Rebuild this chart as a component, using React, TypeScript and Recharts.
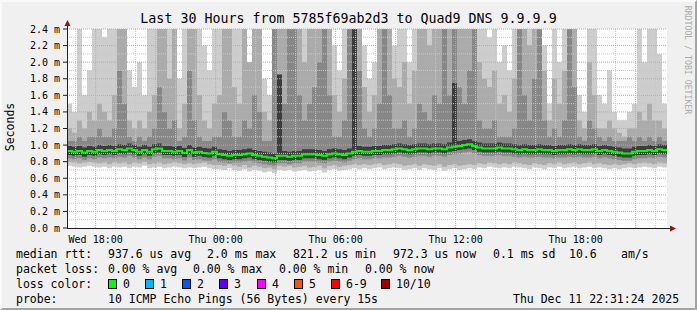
import { ComposedChart, Area, Line, XAxis, YAxis, ReferenceLine, CartesianGrid } from "recharts";

const MONO = "'DejaVu Sans Mono', monospace";

// hours since Wed 00:00; first column starts Wed 16:34, one column every 15 min
const START = 16.5667;
const STEP = 0.25;
const END = START + 30;

// median rtt per column (ms)
const med = [
  0.93, 0.92, 0.93, 0.91, 0.93, 0.92, 0.94, 0.93, 0.94, 0.93,
  0.95, 0.94, 0.96, 0.94, 0.92, 0.94, 0.92, 0.95, 0.96, 0.93,
  0.93, 0.92, 0.93, 0.905, 0.94, 0.91, 0.92, 0.905, 0.9, 0.92,
  0.89, 0.88, 0.87, 0.88, 0.88, 0.89, 0.9, 0.88, 0.87, 0.86,
  0.85, 0.84, 0.87, 0.87, 0.86, 0.87, 0.87, 0.89, 0.89, 0.89,
  0.88, 0.87, 0.89, 0.9, 0.89, 0.88, 0.9, 0.92, 0.93, 0.92,
  0.92, 0.93, 0.93, 0.94, 0.94, 0.95, 0.96, 0.95, 0.94, 0.95,
  0.96, 0.96, 0.95, 0.96, 0.96, 0.95, 0.97, 0.98, 0.99, 1.0,
  1.01, 0.99, 0.97, 0.96, 0.96, 0.96, 0.97, 0.96, 0.96, 0.95,
  0.94, 0.95, 0.94, 0.94, 0.95, 0.94, 0.94, 0.93, 0.94, 0.94,
  0.95, 0.94, 0.95, 0.94, 0.94, 0.95, 0.93, 0.94, 0.93, 0.92,
  0.91, 0.9, 0.9, 0.92, 0.93, 0.93, 0.94, 0.93, 0.95, 0.94,
];

// fastest ping (lower edge of the smoke)
const lo = [
  0.75, 0.74, 0.73, 0.74, 0.75, 0.74, 0.73, 0.74, 0.72, 0.74,
  0.73, 0.74, 0.72, 0.74, 0.73, 0.75, 0.72, 0.73, 0.74, 0.72,
  0.73, 0.74, 0.73, 0.72, 0.73, 0.72, 0.73, 0.74, 0.72, 0.71,
  0.71, 0.7, 0.72, 0.7, 0.69, 0.71, 0.68, 0.7, 0.69, 0.67,
  0.68, 0.66, 0.7, 0.69, 0.7, 0.68, 0.69, 0.7, 0.68, 0.69,
  0.7, 0.67, 0.7, 0.71, 0.69, 0.7, 0.71, 0.72, 0.71, 0.72,
  0.71, 0.72, 0.73, 0.71, 0.72, 0.73, 0.72, 0.7, 0.71, 0.72,
  0.7, 0.72, 0.71, 0.7, 0.72, 0.69, 0.71, 0.72, 0.7, 0.71,
  0.72, 0.71, 0.73, 0.72, 0.74, 0.73, 0.72, 0.73, 0.72, 0.74,
  0.73, 0.72, 0.71, 0.73, 0.72, 0.71, 0.73, 0.72, 0.74, 0.72,
  0.73, 0.74, 0.72, 0.73, 0.74, 0.72, 0.73, 0.72, 0.71, 0.72,
  0.71, 0.72, 0.73, 0.72, 0.73, 0.74, 0.73, 0.72, 0.74, 0.73,
];

// slowest ping (upper edge of the light smoke)
const hi = [
  1.5, 1.4, 2.4, 1.6, 1.9, 2.4, 2.4, 2.3, 2.4, 2.4,
  2.4, 2.4, 1.9, 1.7, 2.0, 1.6, 2.4, 2.4, 2.4, 2.4,
  2.4, 2.4, 1.8, 2.4, 2.4, 2.4, 2.4, 2.2, 1.9, 2.4,
  2.4, 2.4, 2.0, 2.4, 2.4, 2.4, 1.9, 2.4, 2.4, 1.8,
  1.6, 2.4, 2.4, 2.4, 2.4, 2.4, 2.4, 2.4, 2.4, 2.4,
  2.4, 2.4, 2.4, 2.2, 1.9, 2.4, 2.4, 2.4, 2.4, 2.2,
  1.8, 2.0, 2.4, 2.4, 2.4, 2.2, 2.4, 2.4, 2.0, 2.4,
  2.4, 2.4, 2.4, 2.4, 2.4, 2.4, 2.4, 2.4, 2.4, 2.4,
  2.4, 2.4, 2.4, 2.4, 2.3, 2.4, 2.0, 2.2, 1.9, 2.4,
  2.4, 2.4, 2.4, 2.4, 2.4, 2.2, 1.5, 2.4, 2.0, 2.4,
  2.4, 2.4, 1.6, 1.4, 2.4, 2.4, 1.6, 1.5, 1.9, 1.4,
  1.3, 1.3, 1.4, 1.5, 2.4, 2.0, 2.4, 2.4, 2.1, 1.5,
];

// upper edge of the medium smoke
const m1 = [
  1.2, 1.15, 1.3, 1.2, 1.4, 1.3, 1.5, 1.4, 1.3, 1.6,
  2.4, 2.4, 1.3, 1.2, 1.3, 1.2, 1.4, 1.6, 2.4, 2.4,
  1.8, 2.4, 1.2, 1.5, 2.4, 2.4, 1.6, 1.3, 1.2, 1.5,
  1.6, 2.4, 2.4, 1.7, 1.5, 2.4, 2.0, 2.4, 2.4, 1.4,
  1.3, 2.4, 2.4, 2.4, 2.4, 2.4, 2.4, 2.0, 2.4, 2.4,
  2.4, 2.4, 2.4, 1.6, 1.4, 1.8, 2.4, 2.4, 2.4, 1.7,
  1.4, 1.6, 2.4, 2.4, 2.4, 1.8, 1.7, 2.0, 1.5, 1.9,
  2.4, 2.4, 2.2, 2.4, 2.4, 2.4, 2.4, 2.4, 2.4, 2.4,
  2.4, 2.4, 2.0, 1.8, 1.7, 1.9, 1.5, 1.6, 1.4, 1.8,
  2.4, 2.4, 2.2, 2.4, 2.4, 1.9, 1.3, 1.8, 1.5, 1.9,
  2.4, 2.4, 1.3, 1.2, 2.0, 1.6, 1.2, 1.2, 1.3, 1.2,
  1.15, 1.1, 1.2, 1.2, 1.4, 1.3, 1.5, 1.3, 1.3, 1.2,
];

// upper edge of the dark smoke
const m2 = [
  1.05, 1.05, 1.1, 1.05, 1.1, 1.1, 1.2, 1.1, 1.1, 1.2,
  1.9, 1.5, 1.1, 1.05, 1.1, 1.05, 1.1, 1.2, 1.7, 1.4,
  1.2, 1.3, 1.05, 1.1, 1.9, 1.3, 1.1, 1.05, 1.05, 1.1,
  1.1, 1.4, 1.3, 1.1, 1.1, 1.3, 1.2, 1.6, 1.4, 1.05,
  1.05, 2.4, 1.8, 1.5, 2.4, 2.4, 1.6, 1.3, 1.5, 1.7,
  2.0, 2.4, 1.6, 1.1, 1.1, 1.3, 2.4, 2.4, 1.9, 1.2,
  1.1, 1.2, 1.5, 2.4, 1.6, 1.2, 1.2, 1.3, 1.1, 1.2,
  1.5, 1.4, 1.3, 1.6, 1.5, 2.4, 1.6, 2.4, 1.7, 1.5,
  1.9, 2.4, 1.3, 1.2, 1.2, 1.3, 1.1, 1.1, 1.1, 1.2,
  2.4, 1.6, 1.3, 1.8, 2.4, 1.3, 1.1, 1.2, 1.1, 1.3,
  2.4, 1.7, 1.1, 1.05, 1.3, 1.2, 1.1, 1.05, 1.1, 1.05,
  1.05, 1.05, 1.1, 1.05, 1.1, 1.05, 1.1, 1.05, 1.1, 1.05,
];

// black spikes in the core smoke
const spikeCols = [42, 57, 77];
const spikeTops = [1.85, 2.4, 1.75];

const xTicks = [18, 24, 30, 36, 42];
const xTickLabels = ["Wed 18:00", "Thu 00:00", "Thu 06:00", "Thu 12:00", "Thu 18:00"];
const yTicks = [0, 0.2, 0.4, 0.6, 0.8, 1.0, 1.2, 1.4, 1.6, 1.8, 2.0, 2.2, 2.4];
const yMinor = [0.1, 0.3, 0.5, 0.7, 0.9, 1.1, 1.3, 1.5, 1.7, 1.9, 2.1, 2.3];
const hourLines = Array.from({ length: 30 }, (_, i) => 17 + i);

const rows = med.map((m, i) => {
  const s = spikeCols.indexOf(i);
  return {
    t: START + i * STEP,
    light: [lo[i], hi[i]],
    mid: [lo[i] + 0.05, m1[i]],
    dark: [m - 0.09, m2[i]],
    core: [m - 0.05, s >= 0 ? spikeTops[s] : m + 0.06],
    med: m,
  };
});
rows.push({ ...rows[rows.length - 1], t: END });

const statLines: [string, number][][] = [
  [["median rtt:", 16], ["937.6 us avg", 108], ["2.0 ms max", 207], ["821.2 us min", 293], ["972.3 us now", 393], ["0.1 ms sd", 493], ["10.6", 569], ["am/s", 621]],
  [["packet loss:", 16], ["0.00 % avg", 108], ["0.00 % max", 193], ["0.00 % min", 279], ["0.00 % now", 365]],
  [["loss color:", 16]],
  [["probe:", 16], ["10 ICMP Echo Pings (56 Bytes) every 15s", 108], ["Thu Dec 11 22:31:24 2025", 513]],
];
const lossLabels = ["0", "1", "2", "3", "4", "5", "6-9", "10/10"];
const lossColors = ["#00ff00", "#00b8ff", "#0059ff", "#5e00ff", "#ff00ff", "#ff5500", "#ff0000", "#a10000"];
const lossX = [108, 145, 182, 219, 257, 294, 331, 381];

const txt = (s: string, x: number, y: number) => (
  <div key={s + x} style={{ position: "absolute", left: x, top: y - 6.5, fontSize: 11.5, lineHeight: "13px", whiteSpace: "pre", color: "#000" }}>
    {s}
  </div>
);

export default function App() {
  return (
    <div style={{ position: "absolute", left: 0, top: 0, width: 697, height: 310, background: "#f0f0f0", fontFamily: MONO, overflow: "hidden" }}>
      <div style={{ position: "absolute", left: 0, top: 10, width: 697, textAlign: "center", fontSize: 13.3, lineHeight: "18px", color: "#000" }}>
        Last 30 Hours from 5785f69ab2d3 to Quad9 DNS 9.9.9.9
      </div>
      <div style={{ position: "absolute", left: 10, top: 127, transform: "translate(-50%, -50%) rotate(-90deg)", fontSize: 11.5, whiteSpace: "pre" }}>
        Seconds
      </div>
      <div style={{ position: "absolute", left: 688, top: 60, transform: "translate(-50%, -50%) rotate(90deg)", fontSize: 8.2, color: "#aaaaaa", whiteSpace: "pre" }}>
        RRDTOOL / TOBI OETIKER
      </div>

      <div style={{ position: "absolute", left: 0, top: 0 }}>
        <ComposedChart width={697} height={310} data={rows} margin={{ top: 29, right: 30, bottom: 0, left: 0 }}>
          <CartesianGrid fill="#ffffff" horizontal={false} vertical={false} />
          <XAxis
            dataKey="t"
            type="number"
            domain={[START, END]}
            ticks={xTicks}
            tickFormatter={(v: number) => xTickLabels[xTicks.indexOf(v)] ?? ""}
            height={82}
            axisLine={false}
            tickLine={false}
            tickMargin={2}
            tick={{ fontSize: 10, fontFamily: MONO, fill: "#000" }}
          />
          <YAxis
            type="number"
            domain={[0, 2.4]}
            allowDataOverflow
            ticks={yTicks}
            tickFormatter={(v: number) => `${v.toFixed(1)} m`}
            width={67}
            axisLine={false}
            tickLine={{ stroke: "#202020" }}
            tickSize={4}
            tickMargin={3}
            tick={{ fontSize: 10, fontFamily: MONO, fill: "#000" }}
          />
          <Area dataKey="light" type="stepAfter" fill="#cdcdcd" fillOpacity={1} stroke="none" isAnimationActive={false} />
          <Area dataKey="mid" type="stepAfter" fill="#ababab" fillOpacity={1} stroke="none" isAnimationActive={false} />
          <Area dataKey="dark" type="stepAfter" fill="#878787" fillOpacity={1} stroke="none" isAnimationActive={false} />
          <Area dataKey="core" type="stepAfter" fill="#3c3c3c" fillOpacity={1} stroke="none" isAnimationActive={false} />
          {yMinor.map((y) => (
            <ReferenceLine key={"ym" + y} y={y} stroke="#c8c8c8" strokeDasharray="1 1" />
          ))}
          {hourLines.map((h) => (
            <ReferenceLine key={"xh" + h} x={h} stroke={h % 3 === 0 ? "#e39a9a" : "#c8c8c8"} strokeDasharray="1 1" />
          ))}
          {yTicks.slice(1).map((y) => (
            <ReferenceLine key={"yt" + y} y={y} stroke="#e39a9a" strokeDasharray="1 1" />
          ))}
          <Line dataKey="med" type="stepAfter" stroke="#00ff00" strokeWidth={2} dot={false} isAnimationActive={false} />
        </ComposedChart>
      </div>

      <svg width={697} height={310} style={{ position: "absolute", left: 0, top: 0, pointerEvents: "none" }}>
        <line x1={67.5} y1={25} x2={67.5} y2={228.5} stroke="#202020" />
        <line x1={67} y1={228.5} x2={671} y2={228.5} stroke="#202020" />
        <polygon points="67.5,20 64.5,26 70.5,26" fill="#9a1010" />
        <polygon points="676,228.5 670,225.5 670,231.5" fill="#9a1010" />
      </svg>

      {statLines.map((line, li) => line.map(([s, x]) => txt(s, x, 254 + li * 15)))}
      {lossLabels.map((l, i) => (
        <div key={l}>
          <div style={{ position: "absolute", left: lossX[i], top: 279, width: 7, height: 8, background: lossColors[i], border: "1px solid #000" }} />
          {txt(l, lossX[i] + 15, 284)}
        </div>
      ))}

      <div style={{ position: "absolute", left: 0, top: 0, width: 697, height: 310, boxSizing: "border-box", borderTop: "2px solid #fafafa", borderLeft: "2px solid #fafafa", borderRight: "2px solid #a3a3a3", borderBottom: "2px solid #a3a3a3", pointerEvents: "none" }} />
    </div>
  );
}
